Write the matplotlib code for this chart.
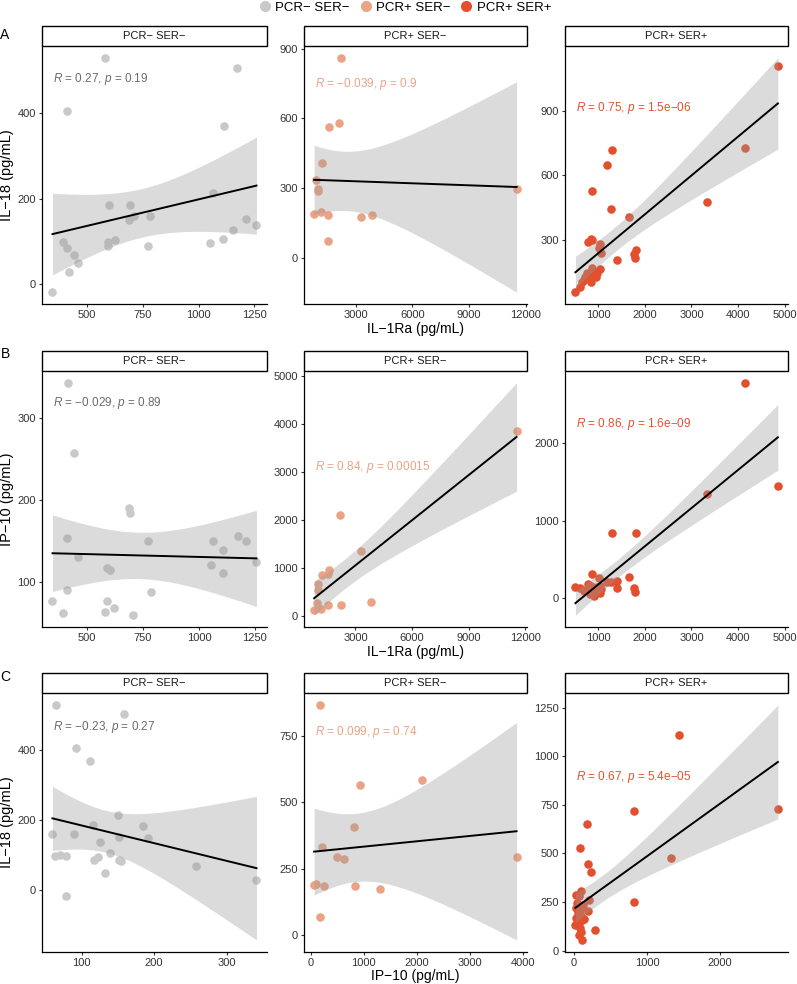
import numpy as np
import matplotlib
matplotlib.use("Agg")
import matplotlib.pyplot as plt
from matplotlib.patches import Rectangle
from matplotlib.lines import Line2D

plt.rcParams['font.family'] = ['Liberation Sans', 'DejaVu Sans']
plt.rcParams['mathtext.fontset'] = 'custom'
plt.rcParams['mathtext.rm'] = 'Liberation Sans'
plt.rcParams['mathtext.it'] = 'Liberation Sans:italic'

groups = ['PCR\u2212 SER\u2212', 'PCR+ SER\u2212', 'PCR+ SER+']
colors = ['#C9C9C9', '#EBA385', '#E2502F']
text_colors = ['#6B6B6B', '#EBA385', '#E2502F']

# row A: IL-18 vs IL-1Ra
A1_x = [582, 1172, 410, 1112, 1065, 600, 693, 688, 709, 784, 1211, 1259, 1153, 1108,
        1053, 772, 593, 593, 624, 395, 410, 443, 461, 418, 346]
A1_y = [529, 504, 405, 369, 214, 186, 185, 150, 159, 160, 153, 138, 127, 106,
        95, 88, 99, 88, 102, 99, 84, 67, 49, 28, -19]
A2_x = [2211, 2140, 1614, 1211, 930, 1000, 1000, 11507, 807, 1158, 1544, 3298, 3842, 1562]
A2_y = [861, 581, 562, 407, 335, 298, 287, 294, 190, 196, 186, 176, 186, 74]
A3_x = [4851, 4148, 1291, 1199, 865, 3330, 1270, 1661, 851, 780, 879, 1043, 1021, 1064,
        1817, 1767, 1803, 1412, 1036, 872, 766, 908, 957, 694, 858, 623, 517, 822, 979,
        730, 659]
A3_y = [1108, 728, 719, 649, 528, 477, 444, 404, 303, 292, 298, 281, 261, 241,
        253, 233, 216, 207, 164, 168, 145, 137, 126, 114, 106, 81, 57, 126, 145,
        126, 106]

# row B: IP-10 vs IL-1Ra
B1_x = [416, 442, 688, 693, 410, 773, 1062, 1175, 1211, 1106, 1257, 1053, 1109, 460,
        591, 602, 410, 784, 346, 590, 622, 582, 395, 706]
B1_y = [343, 257, 191, 185, 154, 151, 150, 157, 151, 139, 125, 121, 111, 131,
        117, 115, 91, 89, 78, 78, 69, 64, 63, 60]
B2_x = [11542, 2158, 3281, 1614, 1544, 1211, 1000, 1000, 947, 1562, 2211, 3842, 1158, 807, 1000]
B2_y = [3872, 2117, 1358, 974, 884, 864, 669, 543, 286, 237, 237, 306, 153, 132, 181]
B3_x = [4148, 4851, 3330, 1291, 1817, 865, 1661, 1412, 1270, 1199, 1021, 1412, 1767, 1803,
        517, 623, 766, 872, 957, 1036, 1064, 694, 858, 908, 822, 979, 780, 879, 1043]
B3_y = [2782, 1445, 1346, 846, 846, 312, 274, 227, 214, 205, 256, 137, 137, 77,
        145, 128, 120, 98, 68, 68, 120, 98, 162, 34, 56, 141, 184, 111, 162]

# row C: IL-18 vs IP-10
C1_x = [65, 158, 92, 112, 150, 185, 116, 60, 90, 192, 152, 126, 139, 117, 123, 151, 155,
        132, 63, 70, 79, 79, 257, 341]
C1_y = [529, 504, 405, 368, 215, 184, 187, 160, 160, 149, 153, 138, 107, 88, 94, 88, 84,
        50, 98, 101, 99, -17, 69, 30]
C2_x = [175, 2097, 926, 814, 219, 488, 626, 3887, 63, 106, 244, 833, 1315, 169]
C2_y = [866, 582, 564, 407, 332, 295, 286, 292, 189, 193, 184, 184, 173, 69]
C3_x = [1436, 2795, 823, 177, 86, 1327, 186, 236, 823, 282, 100, 23, 68, 209, 45, 127, 32,
        91, 195, 91, 32, 136, 18, 73, 82, 91, 105, 68, 114, 55]
C3_y = [1108, 729, 720, 651, 528, 478, 445, 404, 250, 104, 306, 288, 280, 259, 245, 236,
        219, 214, 205, 176, 167, 162, 133, 142, 116, 98, 55, 81, 159, 193]

labels = [
    ['$\\it{R}$ = 0.27, $\\it{p}$ = 0.19', '$\\it{R}$ = \u22120.039, $\\it{p}$ = 0.9',
     '$\\it{R}$ = 0.75, $\\it{p}$ = 1.5e\u221206'],
    ['$\\it{R}$ = \u22120.029, $\\it{p}$ = 0.89', '$\\it{R}$ = 0.84, $\\it{p}$ = 0.00015',
     '$\\it{R}$ = 0.86, $\\it{p}$ = 1.6e\u221209'],
    ['$\\it{R}$ = \u22120.23, $\\it{p}$ = 0.27', '$\\it{R}$ = 0.099, $\\it{p}$ = 0.74',
     '$\\it{R}$ = 0.67, $\\it{p}$ = 5.4e\u221205'],
]
label_y = [[0.871, 0.852, 0.761], [0.876, 0.626, 0.793], [0.868, 0.851, 0.675]]

xticks = [[[500, 750, 1000, 1250], [3000, 6000, 9000, 12000], [1000, 2000, 3000, 4000, 5000]],
          [[500, 750, 1000, 1250], [3000, 6000, 9000, 12000], [1000, 2000, 3000, 4000, 5000]],
          [[100, 200, 300], [0, 1000, 2000, 3000, 4000], [0, 1000, 2000]]]
yticks = [[[0, 200, 400], [0, 300, 600, 900], [300, 600, 900]],
          [[100, 200, 300], [0, 1000, 2000, 3000, 4000, 5000], [0, 1000, 2000]],
          [[0, 200, 400], [0, 250, 500, 750], [0, 250, 500, 750, 1000, 1250]]]

data = [[(A1_x, A1_y), (A2_x, A2_y), (A3_x, A3_y)],
        [(B1_x, B1_y), (B2_x, B2_y), (B3_x, B3_y)],
        [(C1_x, C1_y), (C2_x, C2_y), (C3_x, C3_y)]]

ylabels = ['IL\u221218 (pg/mL)', 'IP\u221210 (pg/mL)', 'IL\u221218 (pg/mL)']
xlabels = ['IL\u22121Ra (pg/mL)', 'IL\u22121Ra (pg/mL)', 'IP\u221210 (pg/mL)']
tags = ['A', 'B', 'C']

W, H = 797, 984
col_l = [42.3, 304, 565.3]
col_r = [266.7, 526.7, 788]
row_t = [46, 371, 693.3]
row_b = [304, 627, 951.7]
xlab_y = [329, 652, 976]
tag_y = [35, 354, 677]


def lm_band(x, y):
    x = np.asarray(x, float)
    y = np.asarray(y, float)
    n = len(x)
    b, a = np.polyfit(x, y, 1)
    xs = np.linspace(x.min(), x.max(), 80)
    fit = a + b * xs
    resid = y - (a + b * x)
    s = np.sqrt(np.sum(resid ** 2) / (n - 2))
    sxx = np.sum((x - x.mean()) ** 2)
    z = 1.959964
    df = n - 2
    t = z + (z ** 3 + z) / (4 * df) + (5 * z ** 5 + 16 * z ** 3 + 3 * z) / (96 * df ** 2)
    se = s * np.sqrt(1.0 / n + (xs - x.mean()) ** 2 / sxx)
    return xs, fit, fit - t * se, fit + t * se


fig = plt.figure(figsize=(W / 100, H / 100), dpi=100)

for r in range(3):
    for c in range(3):
        ax = fig.add_axes([col_l[c] / W, 1 - row_b[r] / H,
                           (col_r[c] - col_l[c]) / W, (row_b[r] - row_t[r]) / H])
        x, y = data[r][c]
        ax.scatter(x, y, s=38, color=colors[c], linewidths=0, zorder=2)
        xs, fit, lo, hi = lm_band(x, y)
        ax.fill_between(xs, lo, hi, color='#999999', alpha=0.35, linewidth=0, zorder=3)
        ax.plot(xs, fit, color='black', lw=1.4, zorder=4)
        ax.set_xticks(xticks[r][c])
        ax.set_yticks(yticks[r][c])
        ax.margins(0.05)
        for side in ['top', 'right']:
            ax.spines[side].set_visible(False)
        for side in ['left', 'bottom']:
            ax.spines[side].set_linewidth(0.9)
        ax.tick_params(length=2.5, width=0.8, pad=2, labelsize=8, labelcolor='#333333',
                       color='#333333')
        ax.text(0.048, label_y[r][c], labels[r][c], transform=ax.transAxes,
                color=text_colors[c], fontsize=8.5, ha='left', va='center')
        h = 20 / (row_b[r] - row_t[r])
        ax.add_patch(Rectangle((0, 1), 1, h, transform=ax.transAxes, facecolor='white',
                               edgecolor='black', lw=1, clip_on=False))
        ax.text(0.5, 1 + h / 2, groups[c], transform=ax.transAxes, ha='center',
                va='center', fontsize=8, color='#1A1A1A')
    fig.text(7 / W, 1 - (row_t[r] + row_b[r]) / 2 / H, ylabels[r], rotation=90,
             ha='center', va='center', fontsize=10.5)
    fig.text((col_l[1] + col_r[1]) / 2 / W, 1 - xlab_y[r] / H, xlabels[r],
             ha='center', va='center', fontsize=10)
    fig.text(5 / W, 1 - tag_y[r] / H, tags[r], ha='center', va='center', fontsize=10)

handles = [Line2D([], [], marker='o', linestyle='', color=col, markersize=7)
           for col in colors]
fig.legend(handles, groups, loc='center', bbox_to_anchor=(0.507, 1 - 8 / H), ncol=3,
           frameon=False, fontsize=9.5, handletextpad=0.2, columnspacing=0.6,
           handlelength=1.2, borderpad=0)

fig.savefig('out.png', dpi=100)
